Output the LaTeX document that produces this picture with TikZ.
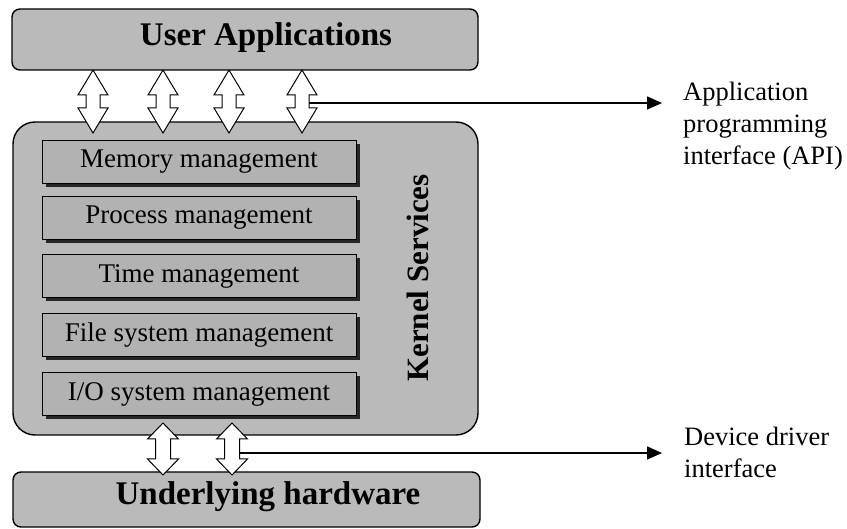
\documentclass[tikz,border=0pt]{standalone}
\usepackage{fontspec}
\setmainfont{Liberation Serif}
\usetikzlibrary{arrows.meta,shadows}

\tikzset{
  panel/.style={draw=black, line width=1.4pt, fill=black!27},
  svcbox/.style={draw=black, line width=0.8pt, fill=black!30, minimum width=314pt, minimum height=43pt,
    drop shadow={shadow xshift=4pt, shadow yshift=-4pt, fill=black!85, opacity=1},
    font=\fontsize{27}{30}\selectfont},
  bigtext/.style={font=\bfseries\fontsize{33}{36}\selectfont},
  udarrow/.style={draw=black, line width=1pt, fill=white, line join=miter},
  pointer/.style={line width=1.6pt, -{Triangle[length=15pt,width=13pt]}},
  sidetext/.style={align=left, anchor=west, inner sep=0pt, font=\fontsize{26.5}{32}\selectfont}
}

% #1 centre x, #2 top tip, #3 bottom tip, #4 head length, #5 half head, #6 half shaft
\newcommand{\updown}[6]{%
  \draw[udarrow] (#1,#2) -- ({#1+#5},{#2+#4}) -- ({#1+#6},{#2+#4}) -- ({#1+#6},{#3-#4})
    -- ({#1+#5},{#3-#4}) -- (#1,#3) -- ({#1-#5},{#3-#4}) -- ({#1-#6},{#3-#4})
    -- ({#1-#6},{#2+#4}) -- ({#1-#5},{#2+#4}) -- cycle;}

\begin{document}
\begin{tikzpicture}[x=1pt,y=-1pt]
\useasboundingbox (0,0) rectangle (847,529);

\node[panel, rounded corners=8pt, minimum width=466pt, minimum height=61pt] (userapp) at (245,39.5) {};
\node[bigtext] (usertext) at (266,38) {User Applications};

\node[panel, rounded corners=22pt, minimum width=465pt, minimum height=313pt] (kernel) at (245.5,278.5) {};
\node[bigtext, font=\bfseries\fontsize{31}{34}\selectfont, rotate=90] (kerneltext) at (418,278) {Kernel Services};

\node[svcbox] (memory) at (199,161.5) {Memory management};
\node[svcbox] (process) at (199,218) {Process management};
\node[svcbox] (time) at (199,276) {Time management};
\node[svcbox] (files) at (199,335) {File system management};
\node[svcbox] (io) at (199,394) {I/O system management};

\node[panel, rounded corners=8pt, minimum width=467pt, minimum height=55pt] (hardware) at (246.5,499.5) {};
\node[bigtext] (hwtext) at (268,497) {Underlying hardware};

\updown{93}{70}{133}{25}{15}{7}
\updown{163}{70}{133}{25}{15}{7}
\updown{229}{70}{133}{25}{15}{7}
\updown{302}{70}{133}{25}{15}{7}

\updown{163}{423}{475}{16}{15.5}{7.5}
\updown{232}{423}{475}{16}{15.5}{7.5}

\coordinate (apistart) at (309,103);
\coordinate (apitip) at (662,103);
\draw[pointer] (apistart) -- (apitip);
\node[sidetext] (apitext) at (683,126) {Application\\programming\\interface (API)};

\coordinate (ddistart) at (239.5,453);
\coordinate (dditip) at (662,453);
\draw[pointer] (ddistart) -- (dditip);
\node[sidetext] (dditext) at (684,452) {Device driver\\interface};
\end{tikzpicture}
\end{document}
